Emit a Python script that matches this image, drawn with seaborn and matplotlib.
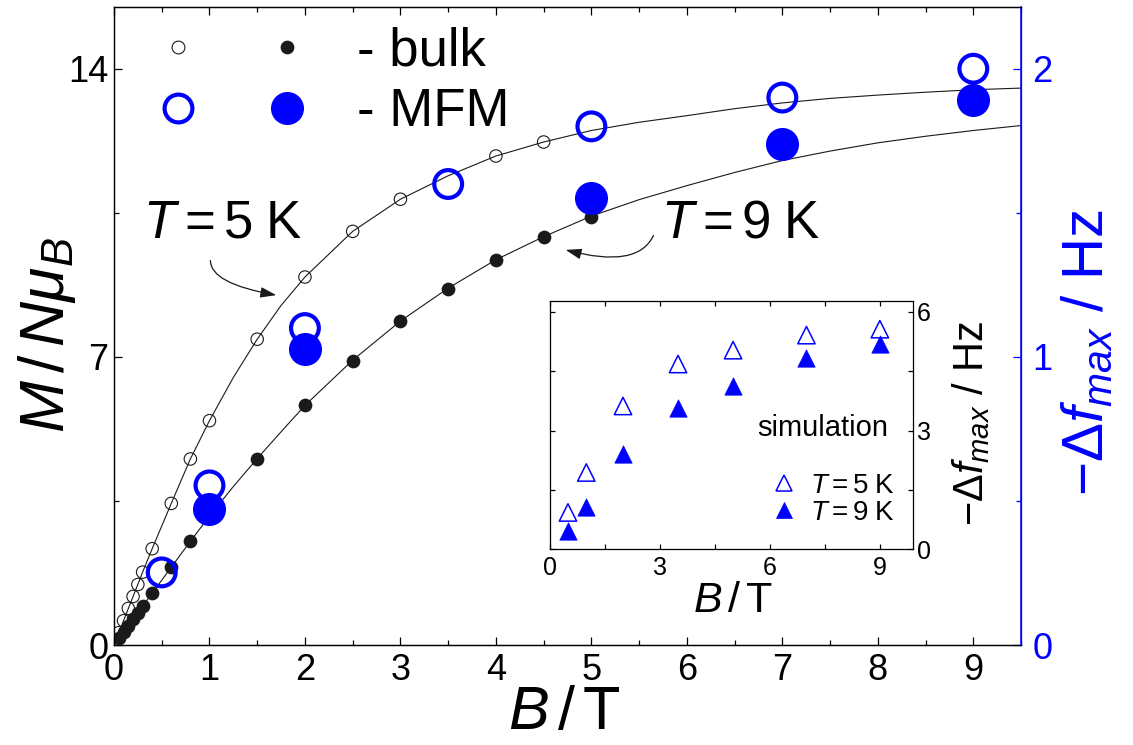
import numpy as np
import pandas as pd
import matplotlib
matplotlib.use("Agg")
import matplotlib.pyplot as plt
import seaborn as sns
from matplotlib.lines import Line2D
from matplotlib.legend_handler import HandlerTuple
from matplotlib.ticker import MultipleLocator

# ---------------- data ----------------
# bulk magnetisation, T = 5 K (open black circles)
bulk5_B = [0.05, 0.1, 0.15, 0.2, 0.25, 0.3, 0.4, 0.6, 0.8, 1.0, 1.5, 2.0, 2.5, 3.0, 4.0, 4.5]
bulk5_M = [0.30, 0.59, 0.89, 1.18, 1.47, 1.77, 2.34, 3.44, 4.52, 5.45, 7.43, 8.94, 10.05, 10.83, 11.88, 12.22]
# bulk magnetisation, T = 9 K (filled black circles)
bulk9_B = [0.05, 0.1, 0.15, 0.2, 0.25, 0.3, 0.4, 0.6, 0.8, 1.0, 1.5, 2.0, 2.5, 3.0, 3.5, 4.0, 4.5, 5.0]
bulk9_M = [0.16, 0.32, 0.47, 0.63, 0.79, 0.95, 1.26, 1.89, 2.52, 3.13, 4.53, 5.82, 6.90, 7.86, 8.66, 9.36, 9.91, 10.41]
# fitted curves
fit_B  = [0, 0.1, 0.2, 0.3, 0.4, 0.6, 0.8, 1.0, 1.25, 1.5, 1.75, 2.0, 2.5, 3.0, 3.5, 4.0, 4.5,
          5.0, 5.5, 6.0, 6.5, 7.0, 7.5, 8.0, 8.5, 9.0, 9.5]
fit5_M = [0, 0.59, 1.18, 1.77, 2.34, 3.44, 4.52, 5.45, 6.50, 7.43, 8.25, 8.94, 10.05, 10.83, 11.40,
          11.88, 12.22, 12.50, 12.70, 12.86, 13.03, 13.17, 13.28, 13.36, 13.43, 13.49, 13.53]
fit9_M = [0, 0.32, 0.63, 0.95, 1.26, 1.89, 2.52, 3.13, 3.85, 4.53, 5.18, 5.82, 6.92, 7.87, 8.67,
          9.36, 9.92, 10.42, 10.82, 11.16, 11.48, 11.77, 12.00, 12.20, 12.36, 12.50, 12.62]
# MFM frequency shift (right axis, Hz)
mfm5_B  = [0.5, 1, 2, 3.5, 5, 7, 9]
mfm5_df = [0.252, 0.554, 1.10, 1.60, 1.80, 1.90, 2.00]
mfm9_B  = [1, 2, 5, 7, 9]
mfm9_df = [0.471, 1.029, 1.553, 1.74, 1.89]
# inset: simulation
sim_B   = [0.5, 1, 2, 3.5, 5, 7, 9]
sim5_df = [0.93, 1.94, 3.62, 4.68, 5.03, 5.41, 5.56]
sim9_df = [0.45, 1.06, 2.40, 3.58, 4.12, 4.82, 5.19]

BLUE = "#0000FF"

sns.set_theme(style="ticks")
plt.rcParams.update({
    "font.family": ["Liberation Sans", "DejaVu Sans"],
    "mathtext.fontset": "custom",
    "mathtext.rm": "Liberation Sans",
    "mathtext.it": "Liberation Sans:italic",
    "mathtext.bf": "Liberation Sans:bold",
    "axes.linewidth": 0.9,
    "axes.edgecolor": "black",
    "axes.labelcolor": "black",
    "text.color": "black",
    "xtick.color": "black",
    "ytick.color": "black",
    "xtick.direction": "in",
    "ytick.direction": "in",
    "axes.grid": False,
})

fig = plt.figure(figsize=(11.33, 7.45), dpi=100)
ax = fig.add_axes([0.1006, 0.1342, 0.8006, 0.8564])
ax2 = ax.twinx()

# fit curves
sns.lineplot(x=fit_B, y=fit5_M, ax=ax, color="k", lw=0.8, estimator=None, sort=False, legend=False, zorder=1)
sns.lineplot(x=fit_B, y=fit9_M, ax=ax, color="k", lw=0.8, estimator=None, sort=False, legend=False, zorder=1)
# bulk data
sns.scatterplot(x=bulk9_B, y=bulk9_M, ax=ax, color="k", marker="o", s=98, linewidth=0, legend=False, zorder=2)
sns.scatterplot(x=bulk5_B, y=bulk5_M, ax=ax, color="k", facecolors="none", edgecolor="k",
                marker="o", s=80, linewidth=0.8, legend=False, zorder=2)
# MFM data on right axis
sns.scatterplot(x=mfm9_B, y=mfm9_df, ax=ax2, color=BLUE, marker="o", s=566, linewidth=0, legend=False, zorder=3)
sns.scatterplot(x=mfm5_B, y=mfm5_df, ax=ax2, color=BLUE, facecolors="none", edgecolor=BLUE,
                marker="o", s=400, linewidth=3.0, legend=False, zorder=3)

ax.set_xlim(0, 9.5)
ax.set_ylim(0, 15.5)
ax2.set_ylim(0, 15.5 / 7)

ax.xaxis.set_major_locator(MultipleLocator(1))
ax.xaxis.set_minor_locator(MultipleLocator(0.5))
ax.set_yticks([0, 7, 14])
ax.yaxis.set_minor_locator(MultipleLocator(3.5))
ax2.set_yticks([0, 1, 2])
ax2.yaxis.set_minor_locator(MultipleLocator(0.5))

ax.tick_params(which="major", length=6, width=0.9, labelsize=26)
ax.tick_params(which="minor", length=3.6, width=0.9)
ax.tick_params(axis="x", which="both", top=True, bottom=True, pad=6)
ax.tick_params(axis="y", which="both", left=True, right=False, pad=4)
ax2.tick_params(axis="y", which="major", length=6, width=0.9, labelsize=26, colors=BLUE, pad=8)
ax2.tick_params(axis="y", which="minor", length=3.6, width=0.9, colors=BLUE)
ax.spines["right"].set_color(BLUE)
ax2.spines["right"].set_color(BLUE)
ax2.spines["right"].set_linewidth(1.1)

ax.set_xlabel(r"$B\,/\,\mathrm{T}$", fontsize=44, va="center")
ax.xaxis.set_label_coords(0.497, -0.108)
ax.set_ylabel(r"$M\,/\,N\mu_{B}$", fontsize=45, va="center")
ax.yaxis.set_label_coords(-0.074, 0.486)
ax2.set_ylabel(r"$-\Delta f_{max}\ /\ \mathrm{Hz}$", fontsize=42, color=BLUE, va="center", rotation=90)
ax2.yaxis.set_label_coords(1.074, 0.458)

# legend (top left)
h_b5 = Line2D([], [], ls="", marker="o", ms=9.2, mfc="none", mec="k", mew=0.8)
h_b9 = Line2D([], [], ls="", marker="o", ms=9.9, mfc="k", mec="k", mew=0)
h_m5 = Line2D([], [], ls="", marker="o", ms=20.0, mfc="none", mec=BLUE, mew=3.0)
h_m9 = Line2D([], [], ls="", marker="o", ms=23.8, mfc=BLUE, mec=BLUE, mew=0)
leg = ax.legend([(h_b5, h_b9), (h_m5, h_m9)], ["- bulk", "- MFM"],
                handler_map={tuple: HandlerTuple(ndivide=None, pad=1.31)},
                handlelength=2.83, handletextpad=0.95, labelspacing=0.2,
                fontsize=38, frameon=False, borderpad=0, borderaxespad=0,
                loc="upper left", bbox_to_anchor=(0.048, 0.969))

# annotations
ax.text(0.30, 10.23, r"$T = 5\;\mathrm{K}$", fontsize=38, ha="left", va="center")
ax.text(5.73, 10.23, r"$T = 9\;\mathrm{K}$", fontsize=38, ha="left", va="center")
arrow_kw = dict(arrowstyle="-|>,head_length=0.6,head_width=0.2", color="k", lw=0.9,
                shrinkA=0, shrinkB=0, mutation_scale=16)
ax.annotate("", xy=(1.70, 8.50), xytext=(1.01, 9.34),
            arrowprops=dict(connectionstyle="angle3,angleA=90,angleB=-10", **arrow_kw))
ax.annotate("", xy=(4.73, 9.60), xytext=(5.65, 9.95),
            arrowprops=dict(connectionstyle="angle3,angleA=65,angleB=165", **arrow_kw))

# ---------------- inset ----------------
axi = fig.add_axes([0.4851, 0.2627, 0.3206, 0.3337])
axi.set_facecolor("white")
sns.scatterplot(x=sim_B, y=sim5_df, ax=axi, color=BLUE, facecolors="none", edgecolor=BLUE,
                marker="^", s=156, linewidth=1.1, legend=False)
sns.scatterplot(x=sim_B, y=sim9_df, ax=axi, color=BLUE, edgecolor=BLUE,
                marker="^", s=156, linewidth=0.5, legend=False)
axi.set_xlim(0, 9.9)
axi.set_ylim(0, 6.28)
axi.set_xticks([0, 3, 6, 9])
axi.xaxis.set_minor_locator(MultipleLocator(1.5))
axi.set_yticks([0, 3, 6])
axi.yaxis.set_minor_locator(MultipleLocator(1.5))
axi.yaxis.tick_right()
axi.yaxis.set_label_position("right")
axi.tick_params(which="both", direction="in", top=True, bottom=True, left=True, right=True,
                length=3.3, width=0.9, labelsize=18)
axi.tick_params(axis="y", which="both", labelleft=False, labelright=True, pad=3)
axi.tick_params(axis="x", which="both", pad=5)
for sp in axi.spines.values():
    sp.set_linewidth(0.9)
axi.set_xlabel(r"$B\,/\,\mathrm{T}$", fontsize=31, va="center")
axi.xaxis.set_label_coords(0.505, -0.208)
axi.set_ylabel(r"$-\Delta f_{max}\ /\ \mathrm{Hz}$", fontsize=30, va="center", rotation=90)
axi.yaxis.set_label_coords(1.160, 0.508)
axi.text(5.66, 3.06, "simulation", fontsize=21, ha="left", va="center")
t5 = Line2D([], [], ls="", marker="^", ms=11.5, mfc="none", mec=BLUE, mew=1.1)
t9 = Line2D([], [], ls="", marker="^", ms=11.5, mfc=BLUE, mec=BLUE, mew=0.5)
axi.legend([t5, t9], [r"$T = 5\;\mathrm{K}$", r"$T = 9\;\mathrm{K}$"], fontsize=20,
           handlelength=1.0, handletextpad=0.42, labelspacing=0.05, frameon=False,
           borderpad=0, borderaxespad=0, loc="upper left", bbox_to_anchor=(0.608, 0.308))

fig.savefig("out.png", dpi=100)
